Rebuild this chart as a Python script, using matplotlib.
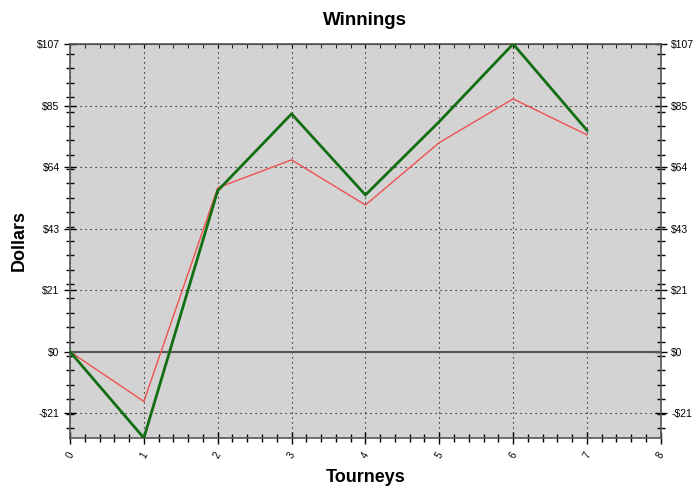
import numpy as np
import matplotlib
matplotlib.use("Agg")
import matplotlib.pyplot as plt
from matplotlib.ticker import FixedLocator

plt.rcParams["font.family"] = ["Liberation Sans", "DejaVu Sans"]

# data
tourneys = [0, 1, 2, 3, 4, 5, 6, 7]
winnings_total = [0, -30, 56, 82.7, 54.5, 80, 107, 77]
winnings_other = [0, -17.3, 57, 66.7, 51, 72.7, 87.9, 75.4]

y_ticks = [-21.4, 0, 21.4, 42.8, 64.2, 85.6, 107]
y_labels = ["-$21", "$0", "$21", "$43", "$64", "$85", "$107"]
x_ticks = [0, 1, 2, 3, 4, 5, 6, 7, 8]

fig = plt.figure(figsize=(7, 4.93), dpi=100)
ax = fig.add_axes([0.1, 0.1116, 0.844, 0.7992])
ax.set_facecolor("#d3d3d3")

ax.axhline(0, color="#555555", linewidth=1.5, zorder=2)
ax.plot(tourneys, winnings_other, color="#f05050", linewidth=1.0, zorder=3)
ax.plot(tourneys, winnings_total, color="#126e12", linewidth=2.0, zorder=4)

ax.set_xlim(0, 8)
ax.set_ylim(-30, 107)

ax.set_xticks(x_ticks)
ax.set_xticklabels([str(t) for t in x_ticks], rotation=60, fontsize=7)
ax.xaxis.set_minor_locator(FixedLocator(np.arange(0, 8.01, 0.2)))
ax.set_yticks(y_ticks)
ax.set_yticklabels(y_labels, fontsize=7.5)
ax.yaxis.set_minor_locator(FixedLocator(np.arange(-26.5, 107, 5)))

ax.tick_params(which="both", direction="inout", colors="black",
               right=True, labelright=True, labelsize=7.5)
ax.tick_params(axis="x", labelsize=7, pad=5)
ax.tick_params(which="major", length=8, width=1)
ax.tick_params(which="minor", length=6, width=1)

top = ax.secondary_xaxis("top")
top.set_xticks(x_ticks)
top.xaxis.set_minor_locator(FixedLocator(np.arange(0, 8.01, 0.2)))
top.tick_params(which="both", direction="in", length=3, labeltop=False)
top.spines["top"].set_color("#555555")

ax.grid(True, which="major", color="black", linestyle=(0, (1, 3.5)), linewidth=0.8)
for s in ax.spines.values():
    s.set_color("#555555")
    s.set_linewidth(1.2)

ax.set_title("Winnings", fontsize=13.5, fontweight="bold", pad=14)
ax.set_xlabel("Tourneys", fontsize=13, fontweight="bold", labelpad=6)
ax.set_ylabel("Dollars", fontsize=13, fontweight="bold", labelpad=6)

fig.savefig("out.png", dpi=100)
